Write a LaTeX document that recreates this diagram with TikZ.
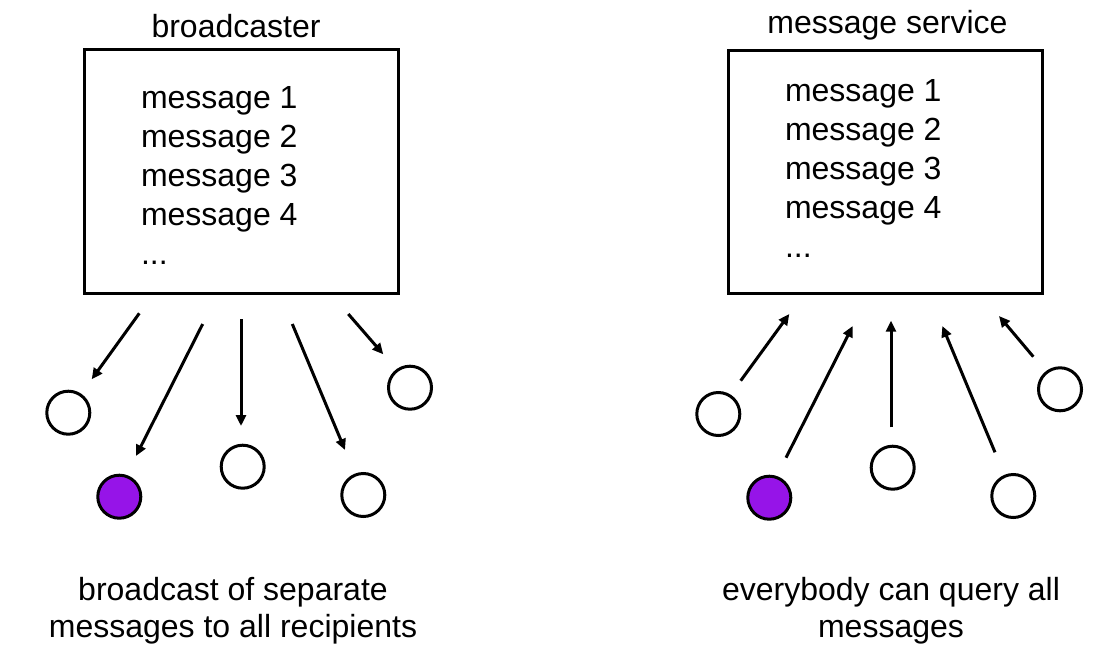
\documentclass[tikz,border=0pt]{standalone}
\usepackage{fontspec}
\setmainfont{Liberation Sans}
\usetikzlibrary{arrows.meta}
\definecolor{vio}{RGB}{150,20,232}
\tikzset{
  boxframe/.style={draw=black, line width=3pt, inner sep=0pt, fill=white},
  dot/.style={circle, draw=black, line width=3pt, minimum size=43pt, inner sep=0pt, fill=white},
  dotp/.style={dot, fill=vio},
  arr/.style={line width=3pt, -{Triangle[length=11pt,width=10pt]}},
  txt/.style={inner sep=0pt, outer sep=0pt, font=\fontsize{32pt}{39pt}\selectfont},
  captxt/.style={inner sep=0pt, outer sep=0pt, font=\fontsize{32pt}{37pt}\selectfont}
}
\begin{document}
\begin{tikzpicture}[x=1pt,y=-1pt]
\useasboundingbox (0,0) rectangle (1108,661);
% left panel
\node[boxframe, minimum width=314pt, minimum height=243pt] (lbox) at (241,171.5) {};
\node[txt, anchor=base] (ltitle) at (236,38) {broadcaster};
\node[txt, anchor=base west] (llist) at (141,108) {\begin{tabular}[t]{@{}l@{}}message 1\\message 2\\message 3\\message 4\\...\end{tabular}};
\node[dot]  (l1) at (68.3,412.7) {};
\node[dotp] (l2) at (119.3,496.7) {};
\node[dot]  (l3) at (242.7,466.7) {};
\node[dot]  (l4) at (363.3,495) {};
\node[dot]  (l5) at (410,387.7) {};
\coordinate (lt1) at (139.3,313.3); \coordinate (lh1) at (91.7,379.3);
\coordinate (lt2) at (202.7,324);   \coordinate (lh2) at (136,456);
\coordinate (lt3) at (241,319);     \coordinate (lh3) at (241,426);
\coordinate (lt4) at (292.3,324);   \coordinate (lh4) at (345,450);
\coordinate (lt5) at (348.3,314);   \coordinate (lh5) at (383.3,354.3);
\foreach \i in {1,...,5} \draw[arr] (lt\i) -- (lh\i);
\node[captxt, anchor=base] (lcap) at (233,600) {\begin{tabular}[t]{@{}c@{}}broadcast of separate\\messages to all recipients\end{tabular}};
% right panel
\node[boxframe, minimum width=314pt, minimum height=242pt] (rbox) at (885,172) {};
\node[txt, anchor=base] (rtitle) at (887.5,33.3) {message service};
\node[txt, anchor=base west] (rlist) at (785,101.7) {\begin{tabular}[t]{@{}l@{}}message 1\\message 2\\message 3\\message 4\\...\end{tabular}};
\node[dot]  (r1) at (718.3,414) {};
\node[dotp] (r2) at (769.3,497.7) {};
\node[dot]  (r3) at (892.7,467.7) {};
\node[dot]  (r4) at (1013.3,496) {};
\node[dot]  (r5) at (1060,389.3) {};
\coordinate (rt1) at (740.7,380.7); \coordinate (rh1) at (789.3,314);
\coordinate (rt2) at (786,457.7);   \coordinate (rh2) at (852.7,326);
\coordinate (rt3) at (891,427.3);   \coordinate (rh3) at (891,320.7);
\coordinate (rt4) at (995,452.3);   \coordinate (rh4) at (942.3,326);
\coordinate (rt5) at (1033.3,356.7);\coordinate (rh5) at (999,316);
\foreach \i in {1,...,5} \draw[arr] (rt\i) -- (rh\i);
\node[captxt, anchor=base] (rcap) at (891,600) {\begin{tabular}[t]{@{}c@{}}everybody can query all\\messages\end{tabular}};
\end{tikzpicture}
\end{document}
